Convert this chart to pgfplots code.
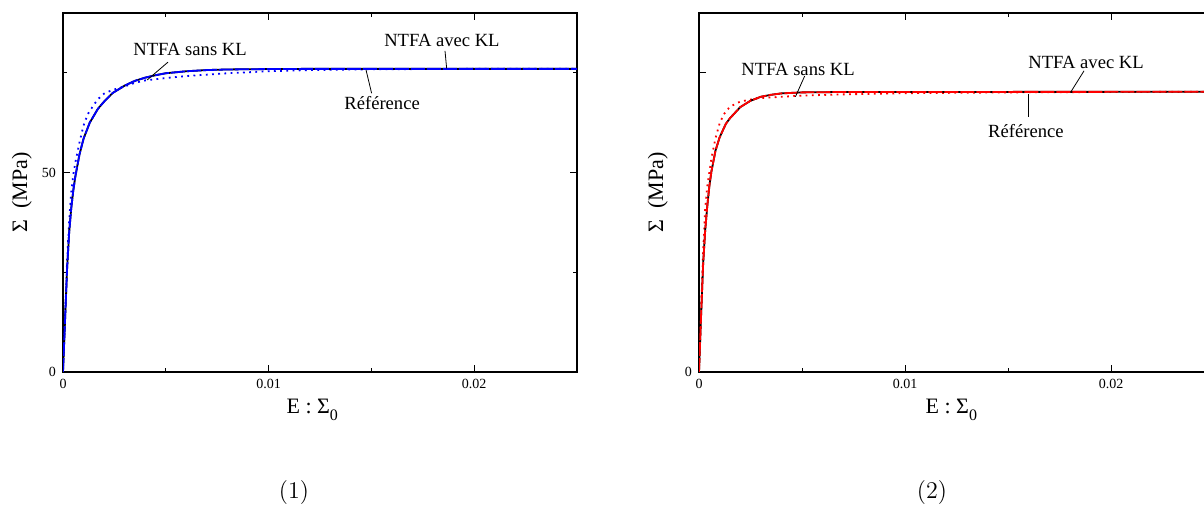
\documentclass[border=0pt]{standalone}
\usepackage{fontspec}
\setmainfont{Liberation Serif}
\usepackage{pgfplots}
\pgfplotsset{compat=1.18}
\tikzset{annot/.style={font=\fontsize{9.3}{11}\selectfont}}
\pgfplotstableread{
x y
0 0
0.0001 13
0.0002 26
0.0003 35
0.0004 41
0.0005 45.5
0.0006 49
0.0008 54.5
0.001 58.5
0.0013 62.5
0.0017 66
0.002 67.8
0.0024 69.9
0.003 71.8
0.0035 73.0
0.004 73.8
0.0045 74.4
0.005 74.9
0.006 75.4
0.007 75.7
0.008 75.85
0.01 75.95
0.012 76
0.025 76
}\refA
\pgfplotstableread{
x y
0 0
0.0001 14
0.0002 28
0.0003 38
0.0004 45
0.0005 49.5
0.0006 52.5
0.0008 57.5
0.001 61.8
0.0012 64.6
0.0015 67
0.0017 68.4
0.002 69.8
0.0024 70.7
0.003 71.6
0.0035 72.5
0.004 73.1
0.005 73.7
0.006 74.2
0.008 74.9
0.01 75.4
0.012 75.7
0.015 75.9
0.02 76
0.025 76
}\sansA
\pgfplotstableread{
x y
0 0
0.0001 14
0.0002 27
0.0003 35.5
0.0004 41.5
0.0005 46.5
0.0006 50.2
0.0008 55.5
0.001 58.8
0.0013 62.2
0.0015 63.6
0.002 66.4
0.0025 68.0
0.003 69.0
0.0035 69.5
0.004 69.85
0.005 70.1
0.007 70.2
0.025 70.25
}\refB
\pgfplotstableread{
x y
0 0
0.0001 15
0.0002 30
0.0003 41
0.0004 46.5
0.0005 50
0.0006 53.5
0.0008 58.6
0.001 62.3
0.0012 64.6
0.0015 66.5
0.002 67.8
0.0028 68.6
0.004 69.0
0.005 69.3
0.007 69.6
0.01 69.9
0.015 70.1
0.02 70.2
0.025 70.25
}\sansB
\begin{document}
\begin{tikzpicture}
\useasboundingbox (0,0) rectangle (602pt,254pt);
\pgfplotsset{myax/.style={
  scale only axis, height=179.5pt,
  xmin=0, xmax=0.025, ymin=0, ymax=90,
  scaled x ticks=false, scaled y ticks=false,
  tick align=inside, major tick length=3.5pt, minor tick length=2.2pt,
  axis line style={line width=0.7pt},
  every tick/.style={black, line width=0.5pt},
  xtick={0,0.01,0.02}, xticklabels={0,0.01,0.02},
  minor xtick={0.005,0.015},
  ticklabel style={font=\fontsize{7}{8}\selectfont},
  xlabel={E : Σ\raisebox{-0.7ex}{\fontsize{8}{9}\selectfont 0}},
  ylabel={Σ\ \ (MPa)},
  label style={font=\fontsize{11}{13}\selectfont},
}}
\begin{axis}[myax, at={(31.5pt,68pt)}, anchor=south west, width=257pt,
  ytick={0,50}, yticklabels={0,50}, minor ytick={25,75},
  xlabel style={at={(axis description cs:0.485,-0.106)}, anchor=center},
  ylabel style={at={(axis description cs:-0.08,0.5)}, anchor=center}]
\addplot[blue, line width=0.9pt, dash pattern=on 0.9pt off 2.2pt] table[x=x,y=y]{\sansA};
\addplot[black, line width=0.9pt] table[x=x,y=y]{\refA};
\addplot[blue, line width=0.9pt, dash pattern=on 7pt off 1pt] table[x=x,y=y]{\refA};
\node[annot] at (axis cs:0.00618,80.97) {NTFA sans KL};
\draw[line width=0.4pt] (axis cs:0.00511,77.7) -- (axis cs:0.00409,73.2);
\node[annot] at (axis cs:0.01843,83.0) {NTFA avec KL};
\draw[line width=0.4pt] (axis cs:0.01858,80.5) -- (axis cs:0.01866,76.1);
\node[annot] at (axis cs:0.01552,67.4) {Référence};
\draw[line width=0.4pt] (axis cs:0.01474,75.7) -- (axis cs:0.01501,69.9);
\end{axis}
\begin{axis}[myax, at={(349.5pt,68pt)}, anchor=south west, width=257.5pt,
  ytick={0,75}, yticklabels={0,{}},
  xlabel style={at={(axis description cs:0.49,-0.106)}, anchor=center},
  ylabel style={at={(axis description cs:-0.08,0.5)}, anchor=center}]
\addplot[red, line width=0.9pt, dash pattern=on 0.9pt off 2.2pt] table[x=x,y=y]{\sansB};
\addplot[black, line width=0.9pt] table[x=x,y=y]{\refB};
\addplot[red, line width=0.9pt, dash pattern=on 7pt off 1pt] table[x=x,y=y]{\refB};
\node[annot] at (axis cs:0.00481,75.96) {NTFA sans KL};
\draw[line width=0.4pt] (axis cs:0.00513,74.2) -- (axis cs:0.00468,69.0);
\node[annot] at (axis cs:0.01879,77.7) {NTFA avec KL};
\draw[line width=0.4pt] (axis cs:0.01869,75.5) -- (axis cs:0.01806,70.3);
\node[annot] at (axis cs:0.01587,60.5) {Référence};
\draw[line width=0.4pt] (axis cs:0.016,69.7) -- (axis cs:0.016,64.0);
\end{axis}
\node[font=\fontsize{12.5}{15}\selectfont] at (147pt,7.5pt) {$(1)$};
\node[font=\fontsize{12.5}{15}\selectfont] at (466pt,7.5pt) {$(2)$};
\end{tikzpicture}
\end{document}
